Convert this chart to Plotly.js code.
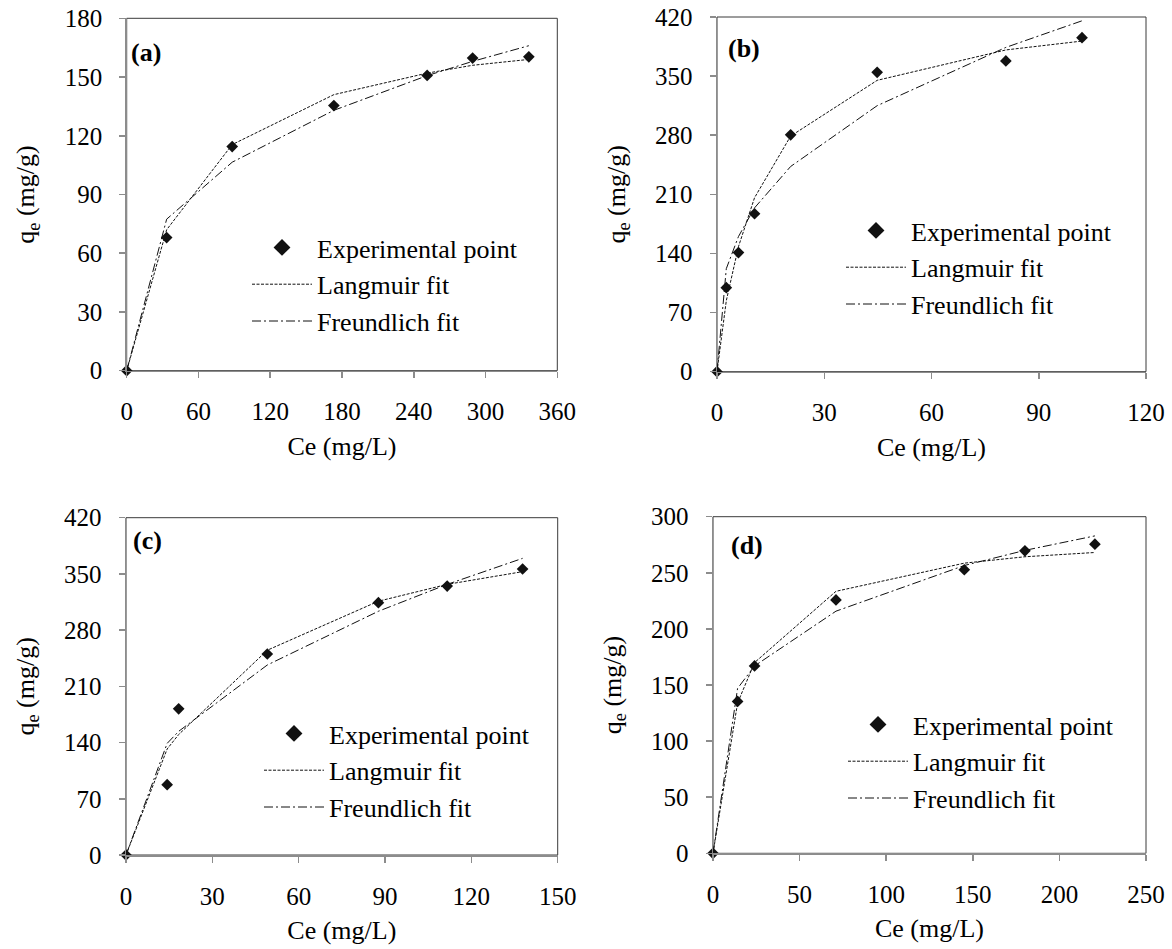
<!DOCTYPE html>
<html>
<head>
<meta charset="utf-8">
<script src="https://cdn.plot.ly/plotly-3.0.1.min.js"></script>
<style>
  html, body { margin: 0; padding: 0; background: #fff; }
  #chart { width: 1172px; height: 949px; }
</style>
</head>
<body>
<div id="chart"></div>
<script>
// Adsorption isotherms: equilibrium concentration Ce (mg/L) vs uptake qe (mg/g)

// (a)
const ceA    = [0, 33.4, 88.2, 173.2, 251.2, 289.2, 336.2];
const qeA    = [0, 68.0, 114.5, 135.4, 150.8, 159.7, 160.3];
const langA  = [0, 72.0, 115.5, 141.0, 152.0, 156.0, 159.0];
const freuA  = [0, 77.4, 106.5, 133.0, 150.7, 158.0, 166.0];

// (b)
const ceB    = [0, 2.6, 6.0, 10.5, 20.6, 44.8, 80.8, 102.1];
const qeB    = [0, 99.5, 141.0, 187.0, 280.5, 354.5, 368.0, 395.5];
const langB  = [0, 84.0, 148.0, 206.0, 279.0, 345.0, 381.0, 391.5];
const freuB  = [0, 122.0, 160.0, 194.0, 243.0, 315.0, 384.0, 415.5];

// (c)
const ceC    = [0, 14.3, 18.3, 49.1, 87.7, 111.6, 137.8];
const qeC    = [0, 87.6, 182.0, 250.3, 314.2, 334.9, 356.1];
const langC  = [0, 132.0, 150.0, 255.0, 316.0, 337.0, 352.8];
const freuC  = [0, 139.0, 154.0, 236.6, 303.5, 337.0, 369.4];

// (d)
const ceD    = [0, 14.2, 24.0, 71.0, 145.1, 180.1, 220.5];
const qeD    = [0, 135.4, 167.0, 225.8, 252.7, 269.6, 275.5];
const langD  = [0, 134.0, 170.0, 233.5, 258.6, 264.3, 268.1];
const freuD  = [0, 147.0, 167.0, 215.8, 256.5, 270.0, 282.9];

const seriesNames = ['Experimental point', 'Langmuir fit', 'Freundlich fit'];
const xTitle = 'Ce (mg/L)';
const yTitle = 'q<sub>e</sub> (mg/g)';

const W = 1172, H = 949;
const px = v => v / W;
const py = v => 1 - v / H;
const FONT = 'Liberation Serif';
const AXIS_GRAY = '#8c8c8c';

// panel frame in pixels: [left, right, top, bottom]; tag = label position; leg = legend top-left
const panels = [
  { label: '(a)', ce: ceA, qe: qeA, lang: langA, freu: freuA, xr: [0, 360], xd: 60, yr: [0, 180], yd: 30,
    box: [126.7, 557.3, 18.3, 370.7], tag: [129, 52], leg: [247, 224] },
  { label: '(b)', ce: ceB, qe: qeB, lang: langB, freu: freuB, xr: [0, 120], xd: 30, yr: [0, 420], yd: 70,
    box: [717, 1146, 17, 371.7], tag: [726, 48], leg: [841, 207] },
  { label: '(c)', ce: ceC, qe: qeC, lang: langC, freu: freuC, xr: [0, 150], xd: 30, yr: [0, 420], yd: 70,
    box: [126, 557.7, 517.7, 855], tag: [131, 540], leg: [259, 710] },
  { label: '(d)', ce: ceD, qe: qeD, lang: langD, freu: freuD, xr: [0, 250], xd: 50, yr: [0, 300], yd: 50,
    box: [713, 1146, 516.7, 853.3], tag: [729, 545], leg: [843, 701] }
];

const traces = [];
const layout = {
  width: W, height: H,
  margin: { l: 0, r: 0, t: 0, b: 0 },
  paper_bgcolor: '#ffffff',
  plot_bgcolor: 'rgba(0,0,0,0)',
  font: { family: FONT, color: '#000' },
  showlegend: true,
  annotations: [],
  shapes: []
};

panels.forEach((p, i) => {
  const n = i === 0 ? '' : String(i + 1);
  const xa = 'x' + n, ya = 'y' + n;
  const legendId = 'legend' + n;

  traces.push({
    type: 'scatter', mode: 'lines', x: p.ce, y: p.lang, xaxis: xa, yaxis: ya,
    name: seriesNames[1], legend: legendId, legendrank: 2,
    line: { color: '#111', width: 1, dash: '3px,1.5px' }, hoverinfo: 'skip'
  });
  traces.push({
    type: 'scatter', mode: 'lines', x: p.ce, y: p.freu, xaxis: xa, yaxis: ya,
    name: seriesNames[2], legend: legendId, legendrank: 3,
    line: { color: '#111', width: 1, dash: '9px,3px,2px,3px' }, hoverinfo: 'skip'
  });
  traces.push({
    type: 'scatter', mode: 'markers', x: p.ce, y: p.qe, xaxis: xa, yaxis: ya,
    name: seriesNames[0], showlegend: false, cliponaxis: false,
    marker: { symbol: 'diamond', size: 9, color: '#111' }
  });
  // legend key for the measured points (larger symbol than on the plot)
  traces.push({
    type: 'scatter', mode: 'markers', x: [null], y: [null], xaxis: xa, yaxis: ya,
    name: seriesNames[0], legend: legendId, legendrank: 1,
    marker: { symbol: 'diamond', size: 13, color: '#111' }, hoverinfo: 'skip'
  });

  const [l, r, t, b] = p.box;
  layout['xaxis' + n] = {
    domain: [px(l), px(r)], anchor: ya, range: p.xr, tick0: 0, dtick: p.xd,
    showgrid: false, zeroline: false, showline: true, linecolor: AXIS_GRAY, linewidth: 1.5,
    ticks: 'outside', ticklen: 6, tickwidth: 1.5, tickcolor: AXIS_GRAY,
    ticklabelstandoff: 12,
    tickfont: { family: FONT, size: 25, color: '#000' },
    title: { text: xTitle, font: { family: FONT, size: 26, color: '#000' }, standoff: 12 },
    fixedrange: true
  };
  layout['yaxis' + n] = {
    domain: [py(b), py(t)], anchor: xa, range: p.yr, tick0: 0, dtick: p.yd,
    showgrid: false, zeroline: false, showline: true, linecolor: AXIS_GRAY, linewidth: 1.5,
    ticks: 'outside', ticklen: 6, tickwidth: 1.5, tickcolor: AXIS_GRAY,
    ticklabelstandoff: 12,
    tickfont: { family: FONT, size: 25, color: '#000' },
    title: { text: yTitle, font: { family: FONT, size: 26, color: '#000' }, standoff: 22 },
    fixedrange: true
  };
  layout[legendId] = {
    x: px(p.leg[0]), y: py(p.leg[1]), xanchor: 'left', yanchor: 'top',
    bgcolor: 'rgba(0,0,0,0)', borderwidth: 0, itemwidth: 60,
    traceorder: 'normal', font: { family: FONT, size: 26, color: '#000' }
  };
  // plot-area frame
  layout.shapes.push({
    type: 'rect', xref: xa + ' domain', yref: ya + ' domain', x0: 0, x1: 1, y0: 0, y1: 1,
    line: { color: '#3a3a3a', width: 1 }, layer: 'below'
  });
  layout.annotations.push({
    text: '<b>' + p.label + '</b>', xref: 'paper', yref: 'paper',
    x: px(p.tag[0]), y: py(p.tag[1]), xanchor: 'left', yanchor: 'middle',
    showarrow: false, font: { family: FONT, size: 26, color: '#000' }
  });
});

Plotly.newPlot('chart', traces, layout, { staticPlot: true, displayModeBar: false });
</script>
</body>
</html>
